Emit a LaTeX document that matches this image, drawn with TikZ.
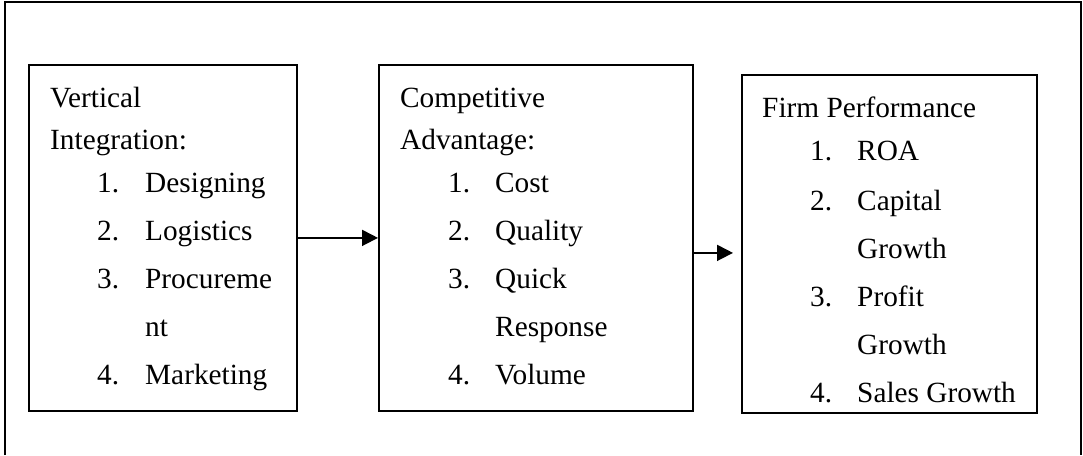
\documentclass[tikz,border=0pt]{standalone}
\usepackage{fontspec}
\setmainfont{Liberation Serif}
\usetikzlibrary{positioning,arrows.meta}

\tikzset{
    framebox/.style={draw, line width=1.8pt, anchor=north west, inner sep=0pt},
    boxtext/.style={anchor=north west, inner sep=0pt, font=\fontsize{29.3}{42}\selectfont},
    flow/.style={line width=1.8pt, -{Triangle[length=16pt,width=16pt]}}
}

\begin{document}
\begin{tikzpicture}[x=1pt, y=-1pt]
    \useasboundingbox (0,0) rectangle (1083,455);

    % Outer frame
    \draw[line width=1.8pt] (5,455) -- (5,2) -- (1081,2) -- (1081,455);

    % Boxes
    \node[framebox, minimum width=268pt, minimum height=346pt] (vi) at (28,64) {};
    \node[framebox, minimum width=314pt, minimum height=346pt] (ca) at (378,64) {};
    \node[framebox, minimum width=295pt, minimum height=338pt] (fp) at (741,74) {};

    % Box texts
    \node[boxtext, below right=14pt and 22pt of vi.north west] (vitext) {%
        \begin{tabular}{@{}p{47pt}@{}p{48pt}@{}l@{}}
        \multicolumn{3}{@{}l@{}}{Vertical}\\
        \multicolumn{3}{@{}l@{}}{Integration:}\\[1pt]
        & 1. & Designing\\[6pt]
        & 2. & Logistics\\[6pt]
        & 3. & Procureme\\[6pt]
        &    & nt\\[6pt]
        & 4. & Marketing
        \end{tabular}};
    \node[boxtext, below right=14pt and 22pt of ca.north west] (catext) {%
        \begin{tabular}{@{}p{48pt}@{}p{47pt}@{}l@{}}
        \multicolumn{3}{@{}l@{}}{Competitive}\\
        \multicolumn{3}{@{}l@{}}{Advantage:}\\[1pt]
        & 1. & Cost\\[6pt]
        & 2. & Quality\\[6pt]
        & 3. & Quick\\[6pt]
        &    & Response\\[6pt]
        & 4. & Volume
        \end{tabular}};
    \node[boxtext, below right=14pt and 21pt of fp.north west] (fptext) {%
        \begin{tabular}{@{}p{48pt}@{}p{47pt}@{}l@{}}
        \multicolumn{3}{@{}l@{}}{Firm Performance}\\[1pt]
        & 1. & ROA\\[8pt]
        & 2. & Capital\\[6pt]
        &    & Growth\\[6pt]
        & 3. & Profit\\[6pt]
        &    & Growth\\[6pt]
        & 4. & Sales Growth
        \end{tabular}};

    % Arrows
    \draw[flow] (vi.east) -- (ca.west);
    \draw[flow, shorten >=8pt] ([yshift=-15pt]ca.east) -- ([yshift=-15pt]ca.east -| fp.west);
\end{tikzpicture}
\end{document}
